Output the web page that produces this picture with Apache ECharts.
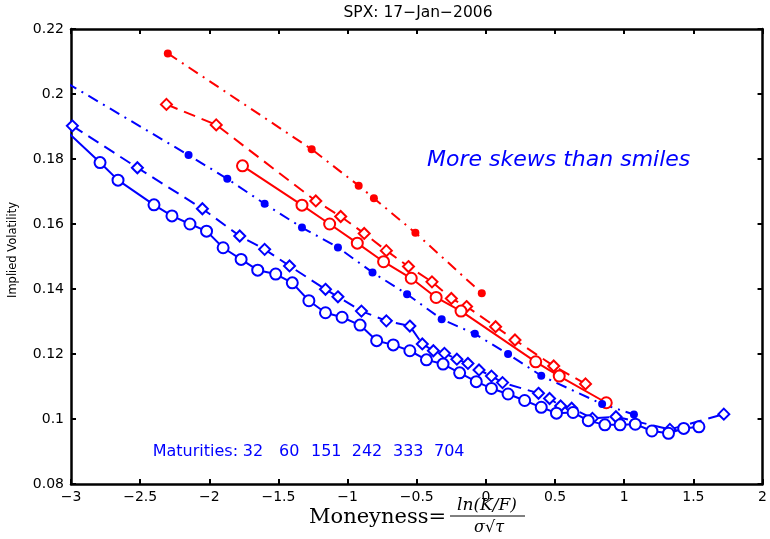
<!DOCTYPE html>
<html>
<head>
<meta charset="utf-8">
<script src="https://cdn.jsdelivr.net/npm/echarts@6/dist/echarts.min.js"></script>
<style>html,body{margin:0;padding:0;background:#fff;}#c{width:770px;height:539px;}</style>
</head>
<body>
<div id="c"></div>
<script>
// ---- data ----
var maturities = [32, 60, 151, 242, 333, 704];
var x32 = [-2.30, -1.26, -0.92, -0.81, -0.51, -0.03];
var y32 = [0.2125, 0.1830, 0.1718, 0.1679, 0.1573, 0.1387];
var x60 = [-2.31, -1.95, -1.23, -1.05, -0.88, -0.72, -0.56, -0.39, -0.25, -0.14, 0.07, 0.21, 0.49, 0.72];
var y60 = [0.1968, 0.1905, 0.1671, 0.1623, 0.1571, 0.1518, 0.1469, 0.1422, 0.1371, 0.1346, 0.1284, 0.1243, 0.1163, 0.1108];
var x151 = [-1.76, -1.33, -1.13, -0.93, -0.74, -0.54, -0.36, -0.18, 0.36, 0.53, 0.87];
var y151 = [0.1779, 0.1658, 0.1600, 0.1541, 0.1484, 0.1433, 0.1374, 0.1332, 0.1176, 0.1132, 0.1050];
var x242 = [-3.03, -2.15, -1.87, -1.60, -1.33, -1.07, -0.82, -0.57, -0.32, -0.08, 0.16, 0.40, 0.84, 1.07];
var y242 = [0.2034, 0.1812, 0.1739, 0.1662, 0.1589, 0.1528, 0.1451, 0.1384, 0.1307, 0.1262, 0.1200, 0.1133, 0.1046, 0.1014];
var x333 = [-2.99, -2.52, -2.05, -1.78, -1.60, -1.42, -1.16, -1.07, -0.90, -0.72, -0.55, -0.46, -0.38, -0.30, -0.21, -0.13, -0.05, 0.04, 0.12, 0.38, 0.46, 0.54, 0.62, 0.77, 0.94, 1.33, 1.72];
var y333 = [0.1902, 0.1773, 0.1647, 0.1563, 0.1522, 0.1471, 0.1399, 0.1376, 0.1332, 0.1302, 0.1286, 0.1231, 0.1210, 0.1202, 0.1184, 0.1171, 0.1151, 0.1132, 0.1112, 0.1079, 0.1063, 0.1040, 0.1033, 0.1002, 0.1007, 0.0968, 0.1015];
var x704 = [-3.02, -2.79, -2.66, -2.40, -2.27, -2.14, -2.02, -1.90, -1.77, -1.65, -1.52, -1.40, -1.28, -1.16, -1.04, -0.91, -0.79, -0.67, -0.55, -0.43, -0.31, -0.19, -0.07, 0.04, 0.16, 0.28, 0.40, 0.51, 0.63, 0.74, 0.86, 0.97, 1.08, 1.20, 1.32, 1.43, 1.54];
var y704 = [0.1881, 0.1789, 0.1735, 0.1659, 0.1625, 0.1600, 0.1578, 0.1527, 0.1491, 0.1458, 0.1446, 0.1419, 0.1364, 0.1327, 0.1313, 0.1289, 0.1241, 0.1228, 0.1210, 0.1182, 0.1169, 0.1142, 0.1115, 0.1094, 0.1077, 0.1057, 0.1036, 0.1018, 0.1020, 0.0995, 0.0982, 0.0982, 0.0984, 0.0963, 0.0956, 0.0971, 0.0976];

var titleText = 'SPX: 17\u2212Jan\u22122006';
var yName = 'Implied Volatility';
var annot = 'More skews than smiles';
var matLabel = 'Maturities:';

function zip(xs, ys) { return xs.map(function (x, i) { return [x, ys[i]]; }); }

var RED = '#ff0000', BLUE = '#0000ff';
var DASHDOT = [11, 6, 2, 6], DASH = [12, 7];
var DIAMOND = 'path://M0,-1L1,0L0,1L-1,0Z';
var SANS = 'DejaVu Sans, Verdana, sans-serif';
var SERIF = 'DejaVu Serif, Liberation Serif, serif';

function mk(name, xs, ys, color, type, symbol, size, filled) {
  return {
    name: name, type: 'line', data: zip(xs, ys), clip: true,
    showAllSymbol: true, symbol: symbol, symbolSize: size,
    lineStyle: { color: color, width: 2, type: type },
    itemStyle: { color: filled ? color : '#fff', borderColor: color, borderWidth: filled ? 0 : 2 },
    emphasis: { disabled: true }, animation: false, z: 3
  };
}

var chart = echarts.init(document.getElementById('c'));
var fmtX = function (v) { return String(v).replace('-', '\u2212'); };
var fmtY = function (v) { return String(parseFloat(v.toFixed(2))); };
var lbl = { color: '#000', fontSize: 14, fontFamily: SANS };
var axLine = { onZero: false, lineStyle: { color: '#000', width: 2.5 } };
var axTick = { inside: true, length: 5, lineStyle: { color: '#000', width: 2 } };

var matTexts = [];
var matX = [242.7, 279, 311, 351.7, 393, 434];
matTexts.push({ type: 'text', silent: true,
  style: { x: 152.7, y: 452, text: matLabel, fill: BLUE, font: '16px ' + SANS, textAlign: 'left', textVerticalAlign: 'middle' } });
maturities.forEach(function (m, i) {
  matTexts.push({ type: 'text', silent: true,
    style: { x: matX[i], y: 452, text: String(m), fill: BLUE, font: '16px ' + SANS, textAlign: 'left', textVerticalAlign: 'middle' } });
});

chart.setOption({
  animation: false,
  backgroundColor: '#fff',
  grid: { left: 71, right: 5, top: 29, bottom: 55, containLabel: false },
  xAxis: [
    { type: 'value', min: -3, max: 2, interval: 0.5, position: 'bottom',
      axisLine: axLine, axisTick: axTick,
      axisLabel: Object.assign({ formatter: fmtX, margin: 6 }, lbl),
      splitLine: { show: false } },
    { type: 'value', min: -3, max: 2, interval: 0.5, position: 'top',
      axisLine: axLine, axisTick: axTick,
      axisLabel: { show: false }, splitLine: { show: false } }
  ],
  yAxis: [
    { type: 'value', min: 0.08, max: 0.22, interval: 0.02, position: 'left',
      axisLine: axLine, axisTick: axTick,
      axisLabel: Object.assign({ formatter: fmtY, margin: 7 }, lbl),
      splitLine: { show: false } },
    { type: 'value', min: 0.08, max: 0.22, interval: 0.02, position: 'right',
      axisLine: axLine, axisTick: axTick,
      axisLabel: { show: false }, splitLine: { show: false } }
  ],
  series: [
    mk(String(maturities[0]), x32, y32, RED, DASHDOT, 'circle', 8, true),
    mk(String(maturities[1]), x60, y60, RED, DASH, DIAMOND, 11, false),
    mk(String(maturities[2]), x151, y151, RED, 'solid', 'circle', 11, false),
    mk(String(maturities[3]), x242, y242, BLUE, DASHDOT, 'circle', 8, true),
    mk(String(maturities[4]), x333, y333, BLUE, DASH, DIAMOND, 11, false),
    mk(String(maturities[5]), x704, y704, BLUE, 'solid', 'circle', 11, false)
  ],
  graphic: [
    { type: 'text', silent: true,
      style: { x: 418, y: 13, text: titleText, fill: '#000', font: '15.5px ' + SANS, textAlign: 'center', textVerticalAlign: 'middle' } },
    { type: 'text', silent: true, x: 13, y: 250, rotation: Math.PI / 2,
      style: { x: 0, y: 0, text: yName, fill: '#000', font: '11.5px ' + SANS, textAlign: 'center', textVerticalAlign: 'middle' } },
    { type: 'text', silent: true,
      style: { x: 427, y: 160, text: annot, fill: BLUE, font: 'italic 22px ' + SANS, textAlign: 'left', textVerticalAlign: 'middle' } },
    { type: 'text', silent: true,
      style: { x: 309, y: 518, text: 'Moneyness=', fill: '#000', font: '21px ' + SERIF, textAlign: 'left', textVerticalAlign: 'middle' } },
    { type: 'text', silent: true,
      style: { x: 487, y: 506, text: 'ln(K/F)', fill: '#000', font: 'italic 17px ' + SERIF, textAlign: 'center', textVerticalAlign: 'middle' } },
    { type: 'line', silent: true, shape: { x1: 450, y1: 516, x2: 525, y2: 516 }, style: { stroke: '#000', lineWidth: 1 } },
    { type: 'text', silent: true,
      style: { x: 489, y: 528, text: '\u03C3\u221A\u03C4', fill: '#000', font: 'italic 16px ' + SERIF, textAlign: 'center', textVerticalAlign: 'middle' } }
  ].concat(matTexts)
});
</script>
</body>
</html>
